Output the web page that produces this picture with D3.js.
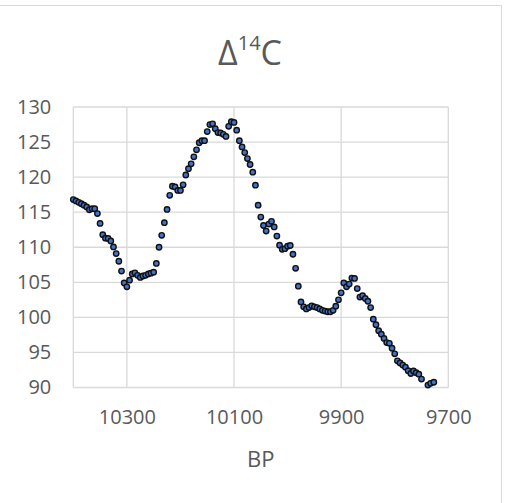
<!DOCTYPE html>
<html>
  <head>
    <meta charset="utf-8" />
    <title>Delta 14C</title>
    <script src="https://d3js.org/d3.v7.min.js"></script>
    <style>
        body {
            margin: 0;
            background: #fff;
        }
        text {
            font-family: "Open Sans", sans-serif;
            fill: #595959;
        }
    </style>
  </head>
  <body>
    <svg id="chart"></svg>

    <script>
        // years BP and Delta 14C values
        var years = [10400, 10395, 10390, 10385, 10380, 10375, 10370, 10365, 10360, 10355,
            10350, 10345, 10340, 10335, 10330, 10325, 10320, 10315, 10310, 10305,
            10300, 10295, 10290, 10285, 10280, 10275, 10270, 10265, 10260, 10255,
            10250, 10245, 10240, 10235, 10230, 10225, 10220, 10215, 10210, 10205,
            10200, 10195, 10190, 10185, 10180, 10175, 10170, 10165, 10160, 10155,
            10150, 10145, 10140, 10135, 10130, 10125, 10120, 10115, 10110, 10105,
            10100, 10095, 10090, 10085, 10080, 10075, 10070, 10065, 10060, 10055,
            10050, 10045, 10040, 10035, 10030, 10025, 10020, 10015, 10010, 10005,
            10000, 9995, 9990, 9985, 9980, 9975, 9970, 9965, 9960, 9955,
            9950, 9945, 9940, 9935, 9930, 9925, 9920, 9915, 9910, 9905,
            9900, 9895, 9890, 9885, 9880, 9875, 9870, 9865, 9860, 9855,
            9850, 9845, 9840, 9835, 9830, 9825, 9820, 9815, 9810, 9805,
            9800, 9795, 9790, 9785, 9780, 9775, 9770, 9765, 9760, 9755,
            9750, 9738, 9733, 9727];
        var delta14C = [116.8, 116.6, 116.4, 116.2, 116.0, 115.75, 115.35, 115.5, 115.5, 114.8,
            113.4, 111.8, 111.3, 111.25, 110.9, 110.05, 109.1, 108.0, 106.6, 104.9,
            104.35, 105.3, 106.2, 106.35, 106.0, 105.7, 105.9, 106.0, 106.2, 106.3,
            106.45, 107.7, 110.0, 111.7, 113.5, 115.4, 117.4, 118.7, 118.6, 118.1,
            118.1, 118.9, 120.3, 121.2, 121.9, 122.9, 123.9, 124.9, 125.2, 125.2,
            126.5, 127.5, 127.6, 126.9, 126.35, 126.3, 126.1, 125.8, 127.25, 127.9,
            127.8, 126.7, 125.2, 124.3, 123.5, 122.65, 121.8, 120.7, 118.85, 116.0,
            114.3, 113.1, 112.3, 113.3, 113.7, 112.9, 111.6, 110.3, 109.7, 109.8,
            110.15, 110.25, 109.0, 107.0, 104.45, 102.2, 101.5, 101.2, 101.4, 101.65,
            101.5, 101.4, 101.2, 101.0, 100.9, 100.8, 100.8, 101.0, 101.6, 102.5,
            103.5, 104.9, 104.35, 104.75, 105.6, 105.55, 104.1, 102.9, 103.1, 102.7,
            102.3, 101.4, 99.75, 98.95, 98.1, 97.6, 97.0, 96.4, 96.3, 95.6,
            94.8, 93.8, 93.5, 93.2, 92.9, 92.4, 92.0, 92.35, 92.1, 91.9,
            91.2, 90.35, 90.6, 90.75, 90.5];

        var xTicks = [10300, 10100, 9900, 9700];
        var yTicks = [90, 95, 100, 105, 110, 115, 120, 125, 130];

        var data = years.map(function(d, i) {
            return {bp: d, value: delta14C[i]};
        });

        var width = 506;
        var height = 503;

        var svg = d3.select("#chart").attr("width", width).attr("height", height);

        var x = d3.scaleLinear()
            .domain([10400, 9700]) // reversed axis
            .range([73.3, 448.3]);

        var y = d3.scaleLinear()
            .domain([90, 130])
            .range([387.5, 107]);

        // chart border (only top and right edges are in frame)
        svg.append("rect")
            .attr("x", -10)
            .attr("y", 5.5)
            .attr("width", 511.5)
            .attr("height", 520)
            .attr("fill", "none")
            .attr("stroke", "#d9d9d9")
            .attr("stroke-width", 1);

        // gridlines
        var grid = svg.append("g").attr("stroke", "#d9d9d9").attr("stroke-width", 1.3);

        grid.selectAll(".hgrid")
            .data(yTicks)
            .enter().append("line")
            .attr("class", "hgrid")
            .attr("x1", x(10400))
            .attr("x2", x(9700))
            .attr("y1", function(d) { return y(d); })
            .attr("y2", function(d) { return y(d); });

        grid.selectAll(".vgrid")
            .data([10400].concat(xTicks))
            .enter().append("line")
            .attr("class", "vgrid")
            .attr("x1", function(d) { return x(d); })
            .attr("x2", function(d) { return x(d); })
            .attr("y1", y(90))
            .attr("y2", y(130));

        // x axis labels
        var xAxis = d3.axisBottom(x).tickValues(xTicks).tickFormat(d3.format("d"))
            .tickSize(0).tickPadding(22);
        var gx = svg.append("g")
            .attr("transform", "translate(0," + y(90) + ")")
            .call(xAxis);
        gx.select(".domain").remove();
        gx.selectAll("text")
            .attr("font-size", 20)
            .attr("font-family", "Open Sans")
            .attr("fill", "#595959");

        // y axis labels
        var yAxis = d3.axisLeft(y).tickValues(yTicks).tickSize(0).tickPadding(22);
        var gy = svg.append("g")
            .attr("transform", "translate(" + x(10400) + ",0)")
            .call(yAxis);
        gy.select(".domain").remove();
        gy.selectAll("text")
            .attr("font-size", 20)
            .attr("font-family", "Open Sans")
            .attr("fill", "#595959");

        // points
        svg.append("g").selectAll("circle")
            .data(data)
            .enter().append("circle")
            .attr("cx", function(d) { return x(d.bp); })
            .attr("cy", function(d) { return y(d.value); })
            .attr("r", 2.7)
            .attr("fill", "#4472c4")
            .attr("stroke", "#111")
            .attr("stroke-width", 1.4);

        // title
        var title = svg.append("text")
            .attr("x", 250)
            .attr("y", 65)
            .attr("text-anchor", "middle")
            .attr("font-size", 34);
        title.append("tspan").text("\u0394");
        title.append("tspan").attr("font-size", 20).attr("dy", -15).text("14");
        title.append("tspan").attr("dy", 15).text("C");

        // axis title
        svg.append("text")
            .attr("x", (x(10400) + x(9700)) / 2)
            .attr("y", 467)
            .attr("text-anchor", "middle")
            .attr("font-size", 22)
            .text("BP");
    </script>
  </body>
</html>
